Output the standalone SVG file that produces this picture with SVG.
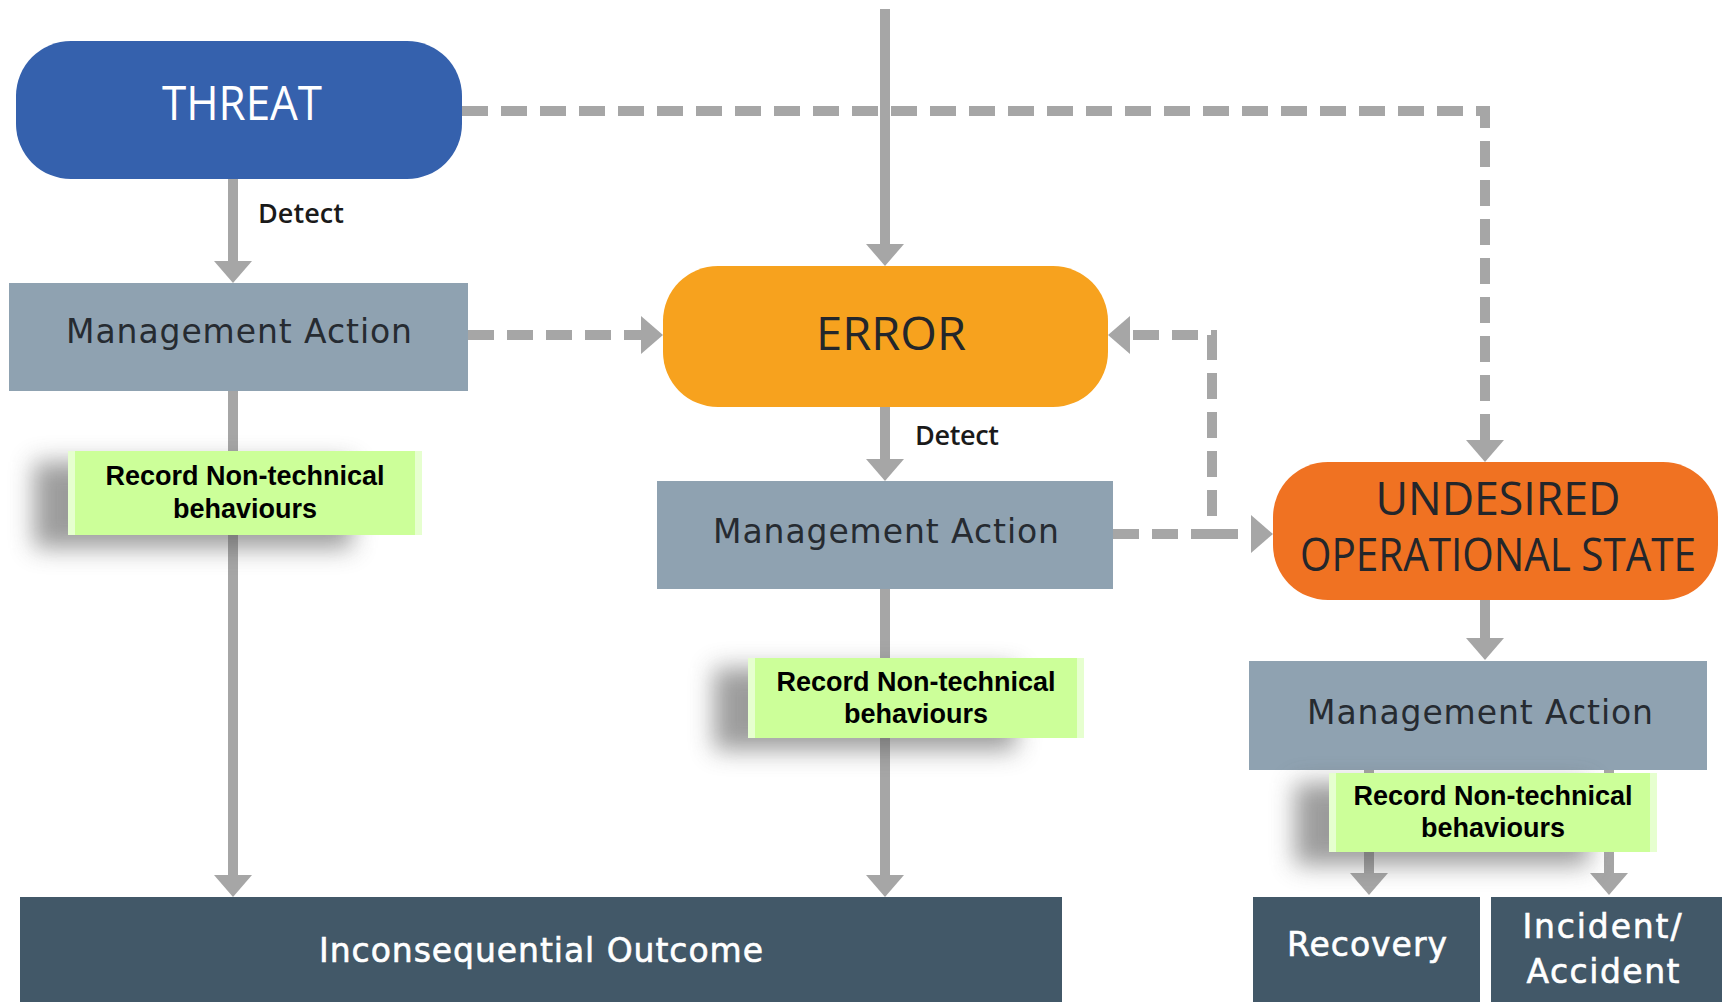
<svg xmlns="http://www.w3.org/2000/svg" width="1725" height="1002" viewBox="0 0 1725 1002">
<defs>
<style>
.lbl{font-family:"Open Sans","Liberation Sans",sans-serif;text-anchor:middle}
.cap{font-size:46px;fill:#23262b}
.ma{font-family:"DejaVu Sans","Open Sans",sans-serif;font-size:33px;fill:#262b31}
.out{font-family:"DejaVu Sans","Open Sans",sans-serif;font-size:33px;fill:#ffffff;stroke:#ffffff;stroke-width:0.6}
.det{font-family:"Open Sans","Liberation Sans",sans-serif;font-size:27px;font-weight:600;fill:#1a1a1a}
.rec{font-family:"Liberation Sans",Arial,sans-serif;font-size:27px;font-weight:bold;fill:#000;text-anchor:middle}
.conn{fill:none;stroke:#a6a6a6;stroke-width:10}
.dash{stroke-dasharray:26 13}
.gbox{fill:#ccff99}
.bevel{fill:#e6ffcf}
.shadow{fill:#5a5a5a;opacity:0.6}
</style>
<marker id="ah" markerUnits="userSpaceOnUse" viewBox="0 -19 22 38" markerWidth="22" markerHeight="38" refX="0" refY="0" orient="auto">
<path d="M0,-19 L22,0 L0,19 Z" fill="#a6a6a6"/>
</marker>
<filter id="blur" x="-30%" y="-60%" width="160%" height="220%">
<feGaussianBlur stdDeviation="12"/>
</filter>
</defs>
<rect width="1725" height="1002" fill="#ffffff"/>

<g id="connectors">
<path class="conn" d="M233,179 V261" marker-end="url(#ah)"/>
<path class="conn" d="M885,9 V244" marker-end="url(#ah)"/>
<path class="conn" d="M885,407 V459" marker-end="url(#ah)"/>
<path class="conn" d="M1485,600 V638" marker-end="url(#ah)"/>
<path class="conn" d="M233,391 V875" marker-end="url(#ah)"/>
<path class="conn" d="M885,589 V875" marker-end="url(#ah)"/>
<path class="conn" d="M1369,770 V873" marker-end="url(#ah)"/>
<path class="conn" d="M1609,770 V873" marker-end="url(#ah)"/>
<path class="conn dash" d="M462,111 H1485 V440" marker-end="url(#ah)"/>
<path class="conn dash" d="M468,335 H641" marker-end="url(#ah)"/>
<path class="conn dash" d="M1113,534 H1212 V335 H1130" marker-end="url(#ah)"/>
<path class="conn dash" d="M1212,534 H1251" marker-end="url(#ah)"/>
</g>

<g id="threat">
<rect x="16" y="41" width="446" height="138" rx="55" fill="#3561ad"/>
<text class="lbl" x="242" y="120" font-size="48" fill="#ffffff" textLength="160" lengthAdjust="spacingAndGlyphs">THREAT</text>
</g>
<g id="detect1"><text class="det" x="258" y="223" textLength="86">Detect</text></g>

<g id="ma1">
<rect x="9" y="283" width="459" height="108" fill="#8fa2b1"/>
<text class="lbl ma" x="239" y="343" textLength="346">Management Action</text>
</g>

<g id="error">
<rect x="663" y="266" width="445" height="141" rx="55" fill="#f7a21e"/>
<text class="lbl cap" x="891" y="350" textLength="150" lengthAdjust="spacingAndGlyphs">ERROR</text>
</g>
<g id="detect2"><text class="det" x="915" y="445" textLength="84">Detect</text></g>

<g id="ma2">
<rect x="657" y="481" width="456" height="108" fill="#8fa2b1"/>
<text class="lbl ma" x="886" y="543" textLength="346">Management Action</text>
</g>

<g id="uos">
<rect x="1273" y="462" width="445" height="138" rx="55" fill="#f07222"/>
<text class="lbl cap" x="1498" y="515" font-size="40" textLength="245" lengthAdjust="spacingAndGlyphs">UNDESIRED</text>
<text class="lbl cap" x="1498" y="571" font-size="40" textLength="396" lengthAdjust="spacingAndGlyphs">OPERATIONAL STATE</text>
</g>

<g id="ma3">
<rect x="1249" y="661" width="458" height="109" fill="#8fa2b1"/>
<text class="lbl ma" x="1480" y="724" textLength="346">Management Action</text>
</g>

<g id="inconsequential">
<rect x="20" y="897" width="1042" height="105" fill="#425868"/>
<text class="lbl out" x="541" y="962" textLength="444">Inconsequential Outcome</text>
</g>

<g id="recovery">
<rect x="1253" y="897" width="227" height="105" fill="#425868"/>
<text class="lbl out" x="1367" y="956" textLength="160">Recovery</text>
</g>

<g id="incident">
<rect x="1491" y="897" width="231" height="105" fill="#425868"/>
<text class="lbl out" x="1602" y="938" textLength="159">Incident/</text>
<text class="lbl out" x="1603" y="983" textLength="153">Accident</text>
</g>

<g id="record1">
<rect class="shadow" x="34" y="462" width="318" height="86" filter="url(#blur)"/>
<rect class="gbox" x="68" y="451" width="354" height="84"/>
<rect class="bevel" x="68" y="451" width="7" height="84"/>
<rect class="bevel" x="415" y="451" width="7" height="84"/>
<text class="rec" x="245" y="485">Record Non-technical</text>
<text class="rec" x="245" y="518">behaviours</text>
</g>

<g id="record2">
<rect class="shadow" x="714" y="668" width="302" height="82" filter="url(#blur)"/>
<rect class="gbox" x="748" y="658" width="336" height="80"/>
<rect class="bevel" x="748" y="658" width="7" height="80"/>
<rect class="bevel" x="1077" y="658" width="7" height="80"/>
<text class="rec" x="916" y="691">Record Non-technical</text>
<text class="rec" x="916" y="723">behaviours</text>
</g>

<g id="record3">
<rect class="shadow" x="1295" y="783" width="294" height="82" filter="url(#blur)"/>
<rect class="gbox" x="1329" y="773" width="328" height="79"/>
<rect class="bevel" x="1329" y="773" width="7" height="79"/>
<rect class="bevel" x="1650" y="773" width="7" height="79"/>
<text class="rec" x="1493" y="805">Record Non-technical</text>
<text class="rec" x="1493" y="837">behaviours</text>
</g>
</svg>
